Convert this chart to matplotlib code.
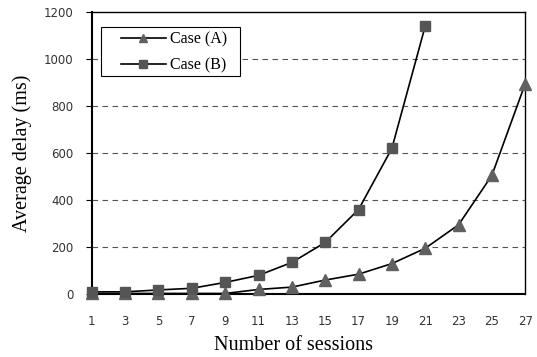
import matplotlib
matplotlib.use("Agg")
import matplotlib.pyplot as plt
from matplotlib.patches import Rectangle

# sessions and measured delays (ms)
sessions_a = [1, 3, 5, 7, 9, 11, 13, 15, 17, 19, 21, 23, 25, 27]
delay_a = [3, 3, 3, 3, 3, 20, 30, 60, 85, 130, 195, 295, 505, 895]
sessions_b = [1, 3, 5, 7, 9, 11, 13, 15, 17, 19, 21]
delay_b = [10, 10, 18, 25, 50, 80, 135, 220, 360, 620, 1140]

x_ticks = list(range(1, 28, 2))
y_ticks = [0, 200, 400, 600, 800, 1000, 1200]

fig = plt.figure(figsize=(5.37, 3.57), dpi=100)
ax = fig.add_axes([0.171, 0.176, 0.807, 0.790])

for y in y_ticks[1:-1]:
    ax.axhline(y, color="#555555", linestyle=(0, (5, 4)), linewidth=0.8, zorder=1)

ax.plot(sessions_a, delay_a, color="black", linewidth=1.2, marker="^",
        markersize=8, markerfacecolor="#606060", markeredgecolor="#606060",
        label="Case (A)", clip_on=False, zorder=3)
ax.plot(sessions_b, delay_b, color="black", linewidth=1.2, marker="s",
        markersize=7, markerfacecolor="#555555", markeredgecolor="#555555",
        label="Case (B)", clip_on=False, zorder=3)

ax.set_xlim(1, 27)
ax.set_ylim(0, 1200)
ax.set_xticks(x_ticks)
ax.set_yticks(y_ticks)
ax.tick_params(axis="x", length=0, pad=15)
ax.tick_params(axis="y", length=4, direction="out", pad=9)
for lbl in ax.get_xticklabels() + ax.get_yticklabels():
    lbl.set_fontfamily("DejaVu Sans")
    lbl.set_fontsize(8.5)
    lbl.set_color("#333333")

for s in ax.spines.values():
    s.set_linewidth(1.0)
ax.spines["left"].set_linewidth(1.5)
ax.spines["bottom"].set_linewidth(1.5)

ax.set_xlabel("Number of sessions", fontfamily="Liberation Serif", fontsize=14.5)
ax.xaxis.set_label_coords(0.465, -0.15)
ax.set_ylabel("Average delay (ms)", fontfamily="Liberation Serif", fontsize=14.5, labelpad=9)

# legend box drawn separately so the padding can match the original
ax.add_patch(Rectangle((0.021, 0.773), 0.321, 0.174, transform=ax.transAxes,
                       facecolor="white", edgecolor="black", linewidth=0.8, zorder=4))
leg = ax.legend(loc="upper left", bbox_to_anchor=(0.067, 0.93), frameon=False,
                prop={"family": "Liberation Serif", "size": 11.5},
                handlelength=2.8, handletextpad=0.3, borderpad=0,
                borderaxespad=0, labelspacing=0.6, markerscale=0.75)
leg.set_zorder(5)

fig.savefig("out.png", dpi=100)
